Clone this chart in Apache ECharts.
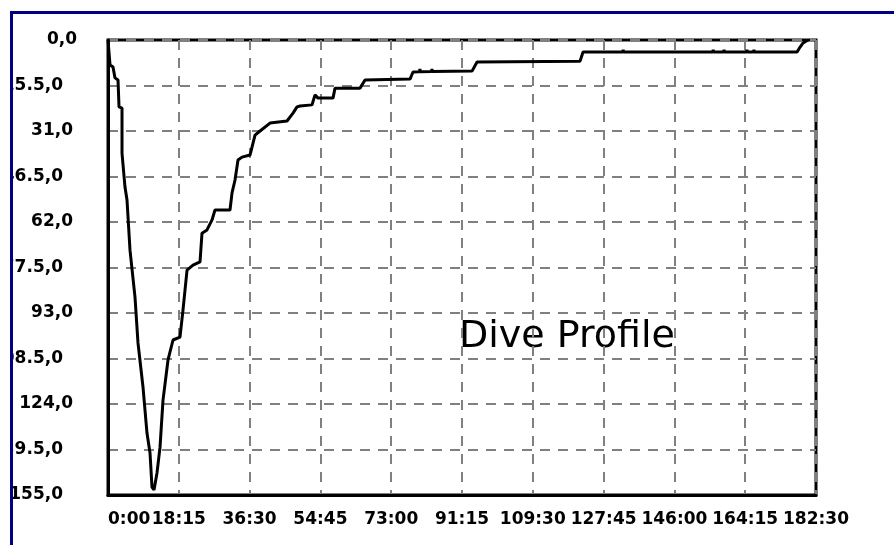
<!DOCTYPE html>
<html>
<head>
<meta charset="utf-8">
<title>Dive Profile</title>
<script src="https://cdn.jsdelivr.net/npm/echarts@6/dist/echarts.min.js"></script>
<style>
  html, body { margin: 0; padding: 0; background: #fff; width: 894px; height: 545px; overflow: hidden; }
  #frame { position: absolute; left: 10px; top: 11px; width: 900px; height: 560px;
           border-top: 3px solid #000080; border-left: 3px solid #000080; }
  #chart { position: absolute; left: 13px; top: 0; width: 881px; height: 545px; }
</style>
</head>
<body>
<div id="frame"></div>
<div id="chart"></div>
<script>
// dive time in minutes, depth in metres
const diveTime = [0.00, 0.52, 1.29, 1.80, 2.58, 2.84, 3.61, 3.61, 4.38, 4.90, 5.67, 6.96, 7.73, 9.02,
  10.05, 10.83, 11.34, 11.86, 12.63, 13.41, 14.18, 15.47, 16.76, 18.56, 19.33, 20.37, 21.91, 23.72,
  24.23, 25.52, 26.81, 27.58, 31.45, 31.97, 32.74, 33.51, 34.54, 36.61, 37.38, 37.90, 39.19, 41.76,
  46.15, 47.69, 48.72, 49.50, 52.59, 53.36, 54.14, 58.00, 58.52, 64.97, 66.25, 77.85, 78.63,
  80.3, 80.4, 80.5, 83.4, 83.5, 83.6, 93.84, 95.13, 121.68, 122.45,
  132.7, 132.8, 132.9, 155.9, 156.0, 156.1, 158.7, 158.8, 158.9, 164.6, 164.7, 164.8,
  166.4, 166.5, 166.6, 177.62, 178.40, 179.17, 180.46];
const diveDepth = [0.0, 8.5, 9.2, 12.9, 13.6, 22.8, 23.2, 38.5, 50.1, 54.5, 71.6, 87.6, 103.2, 118.2,
  133.9, 140.7, 152.3, 153.3, 147.5, 138.7, 122.7, 109.0, 102.2, 101.2, 92.0, 78.4, 76.7, 75.6,
  65.8, 64.7, 61.3, 57.9, 57.9, 52.1, 47.7, 40.9, 39.9, 39.2, 35.1, 32.4, 31.0, 28.3,
  27.6, 24.9, 22.8, 22.5, 22.1, 18.7, 19.8, 19.8, 16.4, 16.4, 13.6, 13.3, 10.9,
  10.8, 9.9, 10.8, 10.7, 9.9, 10.7, 10.6, 7.5, 7.2, 4.1,
  4.1, 3.3, 4.1, 4.1, 3.3, 4.1, 4.1, 3.3, 4.1, 4.1, 3.3, 4.1,
  4.1, 3.3, 4.1, 4.1, 2.4, 1.0, 0.0];

// tick labels as printed by the original chart
const timeLabels = ['0:00', '18:15', '36:30', '54:45', '73:00', '91:15',
  '109:30', '127:45', '146:00', '164:15', '182:30'];
const depthLabels = ['0,0', '15.5,0', '31,0', '46.5,0', '62,0', '77.5,0',
  '93,0', '108.5,0', '124,0', '139.5,0', '155,0'];

const timeStep = 18.25;
const depthStep = 15.5;

const labelFont = {
  fontFamily: 'DejaVu Sans',
  fontWeight: 'bold',
  fontSize: 17,
  color: '#000'
};

// the old control nudges some depth labels further left
function depthLabel(v) {
  const i = Math.round(v / depthStep);
  const s = depthLabels[i];
  if (i === 0) return '{z|' + s + '}';
  if (s.indexOf('.') >= 0 || i === depthLabels.length - 1) return '{w|' + s + '}';
  return '{n|' + s + '}';
}

const chart = echarts.init(document.getElementById('chart'));

const option = {
  animation: false,
  grid: {
    left: 95, right: 78, top: 40, bottom: 50,
    show: true, borderColor: '#000', borderWidth: 3,
    outerBoundsMode: 'none'
  },
  xAxis: {
    type: 'value',
    min: 0, max: timeStep * (timeLabels.length - 1), interval: timeStep,
    axisLine: { show: true, onZero: false, lineStyle: { color: '#000', width: 3 } },
    axisTick: { show: false },
    splitLine: { show: true, lineStyle: { color: '#808080', width: 2, type: [10, 8] } },
    axisLabel: {
      ...labelFont,
      margin: 16,
      showMinLabel: true,
      showMaxLabel: true,
      hideOverlap: false,
      alignMinLabel: 'left',
      formatter: (v) => timeLabels[Math.round(v / timeStep)]
    }
  },
  yAxis: {
    type: 'value',
    inverse: true,
    min: 0, max: depthStep * (depthLabels.length - 1), interval: depthStep,
    axisLine: { show: true, onZero: false, lineStyle: { color: '#000', width: 3 } },
    axisTick: { show: false },
    splitLine: { show: true, lineStyle: { color: '#808080', width: 2, type: [10, 8] } },
    axisLabel: {
      ...labelFont,
      margin: 31,
      showMinLabel: true,
      showMaxLabel: true,
      hideOverlap: false,
      formatter: depthLabel,
      rich: {
        z: { ...labelFont },
        n: { ...labelFont, padding: [0, 4, 0, 0] },
        w: { ...labelFont, padding: [0, 14, 0, 0] }
      }
    }
  },
  graphic: [{
    type: 'text',
    left: 446,
    top: 318,
    style: {
      text: 'Dive Profile',
      font: 'normal 38px "DejaVu Sans"',
      fill: '#000'
    }
  }],
  series: [{
    type: 'line',
    data: diveTime.map((t, i) => [t, diveDepth[i]]),
    showSymbol: false,
    lineStyle: { color: '#000', width: 3 },
    emphasis: { disabled: true }
  }]
};

chart.setOption(option);
</script>
</body>
</html>
